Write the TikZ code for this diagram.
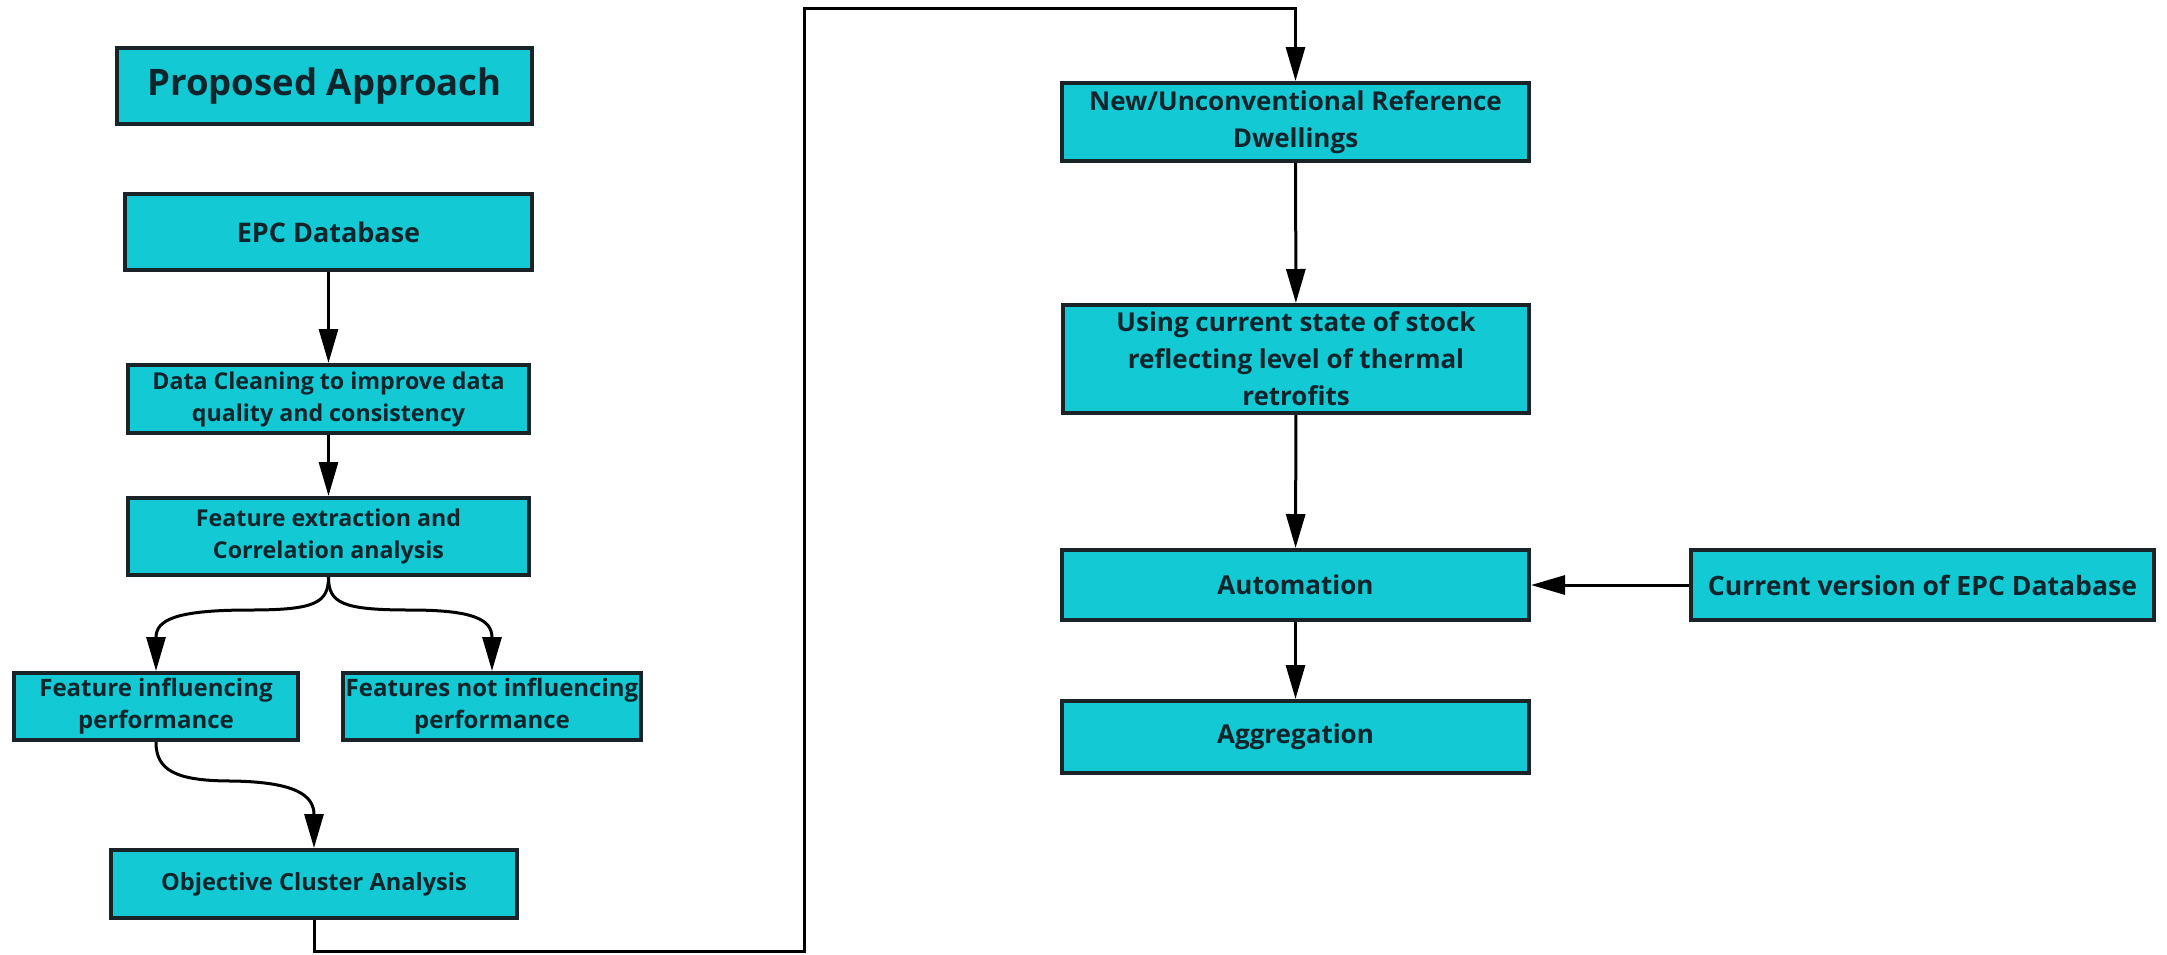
\documentclass[tikz,border=0pt]{standalone}
\usepackage{fontspec}
\setmainfont{Open Sans}
\usetikzlibrary{arrows.meta}
\definecolor{boxfill}{RGB}{19,201,211}
\definecolor{boxline}{RGB}{26,36,40}
\definecolor{txt}{RGB}{16,36,44}
\begin{document}
\begin{tikzpicture}[x=1pt,y=-1pt,
  box/.style 2 args={draw=boxline, line width=4pt, fill=boxfill, text=txt,
    align=center, inner sep=0pt, anchor=center,
    minimum width=#1pt-4pt, minimum height=#2pt-4pt},
  fs/.style 2 args={font=\fontsize{#1}{#2}\selectfont\bfseries},
  conn/.style={line width=3pt, draw=black, -{Triangle[length=34pt,width=19pt]}}]
\useasboundingbox (0,0) rectangle (2167,954);
\fill[white] (0,0) rectangle (2167,954);

% left column
\node[box={419}{80}, fs={36.5}{44}] (pa) at (324.5,86) {Proposed Approach};
\node[box={411}{80}, fs={27}{34}] (epc) at (328.5,232) {EPC Database};
\node[box={405}{72}, fs={23.2}{32}] (dc) at (328.5,399) {Data Cleaning to improve data\\quality and consistency};
\node[box={405}{81}, fs={23.2}{32}] (fe) at (328.5,536.5) {Feature extraction and\\Correlation analysis};
\node[box={288}{71}, fs={24}{32}] (fi) at (156,706.5) {Feature influencing\\performance};
\node[box={302}{71}, fs={24}{32}] (fn) at (492,706.5) {Features not influencing\\performance};
\node[box={410}{72}, fs={23.6}{32}] (obj) at (314,884) {Objective Cluster Analysis};

% right column
\node[box={471}{82}, fs={26}{37}] (new) at (1295.5,122) {New/Unconventional Reference\\Dwellings};
\node[box={470}{112}, fs={26}{37}] (use) at (1296,359) {Using current state of stock\\reflecting level of thermal\\retrofits};
\node[box={471}{74}, fs={26}{37}] (auto) at (1295.5,585) {Automation};
\node[box={467}{74}, fs={26.6}{37}] (cur) at (1922.5,585) {Current version of EPC Database};
\node[box={471}{76}, fs={26}{37}] (agg) at (1295.5,737) {Aggregation};

% connectors
\draw[conn] (epc) -- (dc);
\draw[conn] (dc) -- (fe);
\draw[conn] (fe.south) .. controls (328.5,603) and (315,610) .. (250,610)
  .. controls (175,610) and (156,620) .. (fi.north);
\draw[conn] (fe.south) .. controls (328.5,603) and (342,610) .. (410,610)
  .. controls (475,610) and (492,620) .. (fn.north);
\draw[conn] (fi.south) .. controls (156,770) and (175,781) .. (232,781)
  .. controls (295,782) and (314,795) .. (obj.north);
\draw[conn] (obj.south) |- (804,951) -- (804,8) -| (new.north);
\draw[conn] (new) -- (use);
\draw[conn] (use) -- (auto);
\draw[conn] (auto) -- (agg);
\draw[conn] (cur) -- (auto);
\end{tikzpicture}
\end{document}
